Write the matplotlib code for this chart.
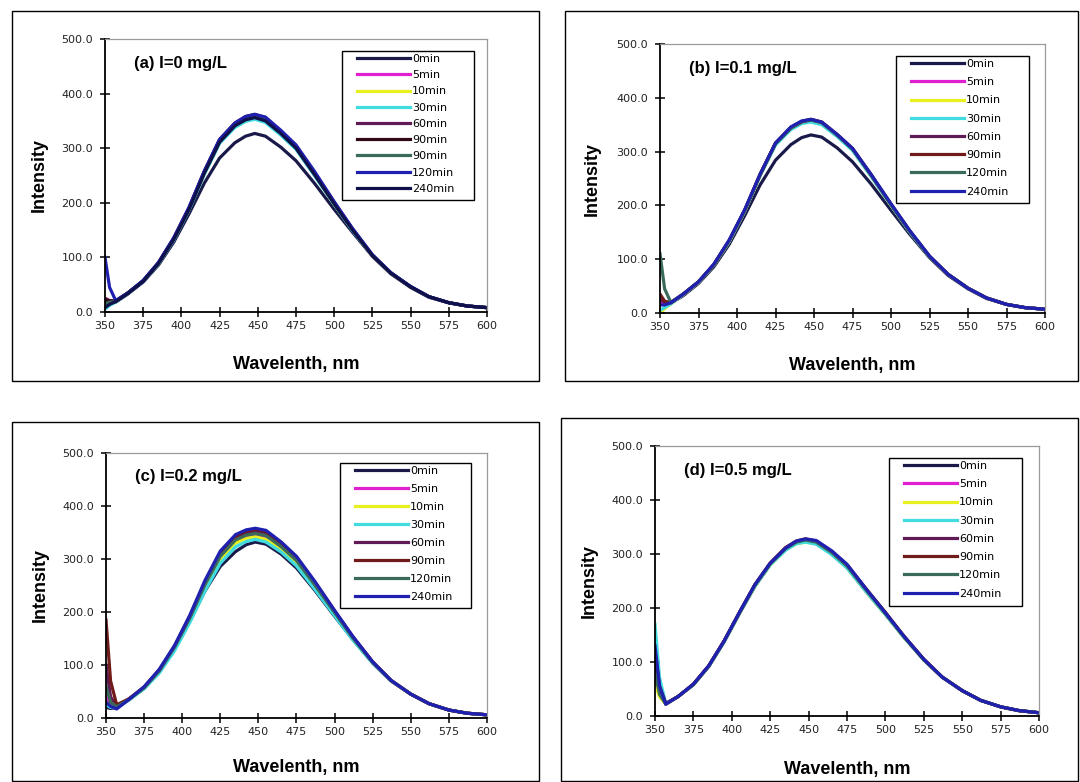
import matplotlib
matplotlib.use('Agg')
import matplotlib.pyplot as plt
from matplotlib.patches import Rectangle

plt.rcParams['font.family'] = ['DejaVu Sans']

# wavelength grid (nm)
wl = [350, 353, 357, 365, 375, 385, 395, 405, 415, 425, 435, 442, 448,
      455, 465, 475, 487, 500, 512, 525, 537, 550, 562, 575, 587, 600]

labels_a = ['0min', '5min', '10min', '30min', '60min', '90min', '90min', '120min', '240min']
labels_bcd = ['0min', '5min', '10min', '30min', '60min', '90min', '120min', '240min']

colors_a = ['#1a1a4a', '#e020d0', '#e8f020', '#40dce0', '#601a55', '#300818', '#3a6a5a', '#2020b0', '#10104a']
colors_bcd = ['#1a1a4a', '#e020d0', '#e8f020', '#40dce0', '#601a55', '#701a1a', '#3a6a5a', '#2020b0']

# (a) I=0 mg/L
curves_a = [
    [10, 16, 18, 33, 55, 86, 128, 180, 236, 282, 310, 322, 327, 322, 302, 277, 236, 188, 146, 102, 70, 45, 27, 17, 11, 8],
    [25, 20, 19, 35, 57, 89, 134, 189, 255, 312, 342, 353, 357, 351, 327, 300, 252, 198, 150, 103, 71, 46, 28, 17, 11, 8],
    [20, 19, 19, 35, 57, 89, 133, 188, 253, 310, 340, 351, 355, 349, 325, 299, 251, 197, 150, 103, 71, 46, 28, 17, 11, 8],
    [5, 12, 18, 34, 56, 88, 132, 187, 252, 309, 338, 349, 353, 347, 324, 298, 250, 197, 149, 103, 71, 46, 28, 17, 11, 8],
    [25, 21, 20, 35, 57, 90, 135, 190, 257, 315, 345, 357, 361, 355, 330, 303, 255, 200, 152, 104, 72, 46, 28, 17, 11, 8],
    [22, 20, 20, 35, 57, 90, 135, 191, 258, 316, 346, 358, 362, 356, 331, 304, 256, 201, 152, 104, 72, 46, 28, 17, 11, 8],
    [15, 18, 19, 35, 57, 89, 134, 189, 256, 313, 343, 355, 359, 353, 329, 302, 254, 199, 151, 104, 72, 46, 28, 17, 11, 8],
    [100, 45, 21, 35, 58, 91, 136, 192, 258, 316, 346, 358, 362, 357, 333, 306, 258, 202, 153, 105, 72, 47, 28, 17, 11, 8],
    [8, 14, 19, 34, 56, 89, 133, 188, 254, 311, 341, 352, 356, 350, 327, 300, 252, 198, 150, 103, 71, 46, 28, 17, 11, 8],
]

# (b) I=0.1 mg/L
curves_b = [
    [30, 20, 18, 32, 55, 86, 128, 181, 238, 284, 313, 326, 331, 327, 307, 281, 240, 191, 147, 103, 70, 45, 27, 16, 10, 7],
    [20, 17, 18, 34, 57, 90, 134, 190, 256, 314, 343, 354, 357, 352, 330, 304, 256, 201, 152, 105, 72, 46, 28, 16, 10, 7],
    [0, 8, 17, 34, 57, 89, 133, 189, 255, 313, 342, 353, 356, 351, 329, 303, 255, 200, 152, 105, 72, 46, 28, 16, 10, 7],
    [5, 10, 17, 34, 57, 89, 133, 189, 255, 312, 341, 352, 355, 350, 328, 302, 254, 200, 151, 104, 72, 46, 28, 16, 10, 7],
    [25, 20, 19, 35, 58, 90, 135, 191, 257, 315, 344, 355, 359, 354, 331, 305, 257, 202, 153, 105, 72, 46, 28, 16, 10, 7],
    [35, 22, 19, 35, 58, 90, 135, 191, 258, 316, 345, 356, 360, 355, 332, 306, 257, 202, 153, 105, 72, 46, 28, 16, 10, 7],
    [110, 45, 20, 35, 58, 90, 135, 191, 257, 315, 344, 356, 359, 354, 331, 305, 257, 202, 153, 105, 72, 46, 28, 16, 10, 7],
    [15, 15, 19, 35, 58, 91, 136, 192, 258, 316, 346, 357, 360, 355, 332, 306, 258, 203, 154, 106, 72, 46, 28, 16, 10, 7],
]

# (c) I=0.2 mg/L
curves_c = [
    [20, 18, 20, 34, 56, 87, 130, 183, 240, 286, 314, 327, 332, 328, 309, 283, 241, 192, 148, 104, 70, 45, 27, 15, 9, 6],
    [40, 25, 20, 35, 57, 89, 133, 188, 250, 302, 332, 342, 345, 340, 320, 294, 249, 197, 150, 104, 70, 45, 27, 15, 9, 6],
    [30, 22, 20, 35, 57, 88, 132, 186, 248, 300, 330, 339, 342, 337, 318, 292, 247, 196, 149, 104, 70, 45, 27, 15, 9, 6],
    [25, 20, 19, 34, 55, 85, 127, 180, 240, 292, 323, 333, 337, 332, 313, 287, 243, 193, 147, 103, 70, 45, 27, 15, 9, 6],
    [100, 40, 22, 36, 58, 90, 135, 190, 255, 309, 340, 349, 352, 348, 327, 300, 254, 201, 152, 105, 71, 45, 27, 15, 9, 6],
    [185, 70, 25, 36, 58, 91, 136, 192, 257, 312, 343, 353, 356, 352, 330, 303, 256, 202, 153, 106, 71, 45, 27, 15, 9, 6],
    [60, 30, 21, 35, 57, 89, 134, 189, 252, 305, 336, 345, 348, 344, 323, 297, 251, 199, 151, 105, 71, 45, 27, 15, 9, 6],
    [30, 22, 17, 35, 59, 92, 137, 194, 260, 315, 346, 355, 358, 354, 332, 305, 258, 203, 154, 106, 71, 45, 27, 15, 9, 6],
]

# (d) I=0.5 mg/L
curves_d = [
    [140, 60, 22, 36, 58, 92, 138, 190, 240, 280, 308, 320, 324, 320, 300, 275, 232, 188, 146, 104, 72, 47, 29, 17, 10, 6],
    [90, 45, 22, 36, 58, 92, 138, 191, 241, 281, 309, 321, 325, 321, 301, 276, 233, 189, 147, 104, 72, 47, 29, 17, 10, 6],
    [60, 35, 22, 36, 58, 92, 138, 190, 240, 280, 308, 319, 322, 319, 300, 275, 232, 188, 146, 104, 72, 47, 29, 17, 10, 6],
    [170, 70, 23, 36, 58, 92, 137, 190, 240, 280, 307, 319, 322, 318, 299, 274, 232, 188, 146, 104, 72, 47, 29, 17, 10, 6],
    [120, 55, 23, 36, 59, 93, 139, 192, 243, 283, 311, 323, 327, 323, 304, 279, 236, 191, 148, 105, 72, 47, 29, 17, 10, 6],
    [100, 50, 23, 36, 59, 93, 139, 192, 243, 283, 312, 324, 328, 324, 305, 280, 237, 192, 148, 105, 72, 47, 29, 17, 10, 6],
    [80, 40, 22, 36, 58, 92, 138, 191, 242, 282, 310, 322, 326, 322, 303, 278, 235, 190, 147, 104, 72, 47, 29, 17, 10, 6],
    [130, 55, 22, 36, 59, 93, 139, 192, 243, 283, 311, 324, 328, 325, 306, 281, 237, 191, 148, 105, 72, 47, 29, 17, 10, 6],
]

W, H = 1080, 782
fig = plt.figure(figsize=(W / 100, H / 100), dpi=100)


def px_rect(x0, y0, x1, y1):
    # pixel box (top-left origin) -> figure fraction [left, bottom, w, h]
    return [x0 / W, 1 - y1 / H, (x1 - x0) / W, (y1 - y0) / H]


def frame(x0, y0, x1, y1, lw):
    r = px_rect(x0, y0, x1, y1)
    fig.add_artist(Rectangle((r[0], r[1]), r[2], r[3], transform=fig.transFigure,
                             fill=False, edgecolor='black', lw=lw, zorder=5))


def draw_panel(axrect, boxrect, legrect, tag, curves, labels, colors, lspace, ylab_x, xlab_y):
    frame(*boxrect, 1.0)
    ax = fig.add_axes(px_rect(*axrect))
    for vals, lab, c in zip(curves, labels, colors):
        ax.plot(wl, vals, color=c, lw=2.3, label=lab, solid_joinstyle='round')
    ax.set_xlim(350, 600)
    ax.set_ylim(0, 500)
    ax.set_xticks(range(350, 601, 25))
    ax.set_yticks(range(0, 501, 100))
    ax.set_yticklabels([f'{v:.1f}' for v in range(0, 501, 100)])
    ax.tick_params(direction='inout', length=7, width=1.1, labelsize=8,
                   labelcolor='#222222')
    ax.tick_params(axis='y', pad=5)
    ax.tick_params(axis='x', pad=3)
    for s in ['top', 'right']:
        ax.spines[s].set_color('#9a9a9a')
        ax.spines[s].set_linewidth(0.9)
    for s in ['left', 'bottom']:
        ax.spines[s].set_linewidth(1.3)
    lab_font = dict(fontsize=13, fontweight='bold', family='Liberation Sans')
    ax.set_xlabel('Wavelenth, nm', **lab_font)
    ax.set_ylabel('Intensity', **lab_font)
    l, b, w, h = px_rect(*axrect)
    ax.xaxis.set_label_coords(0.5, ((1 - (xlab_y - 8) / H) - b) / h, transform=ax.transAxes)
    ax.yaxis.set_label_coords(((ylab_x + 8) / W - l) / w, 0.5, transform=ax.transAxes)
    ax.text(0.075, 0.91, tag, transform=ax.transAxes, fontsize=12, fontweight='bold',
            family='Liberation Sans', va='center', ha='left')
    # legend: own frame drawn at the pixel box, entries placed inside it
    lx0, ly0, lx1, ly1 = legrect
    frame(lx0, ly0, lx1, ly1, 1.0)
    leg = ax.legend(loc='upper left', bbox_to_anchor=((lx0 + 15) / W, 1 - (ly0 + 3) / H),
                    bbox_transform=fig.transFigure, fontsize=8,
                    handlelength=4.8, handletextpad=0.15, labelspacing=lspace,
                    borderpad=0, borderaxespad=0, frameon=False)
    for line in leg.get_lines():
        line.set_linewidth(2.3)
    return ax


draw_panel((105, 39, 487, 312), (12, 11, 539, 381), (342, 51, 474, 200), '(a) I=0 mg/L',
           curves_a, labels_a, colors_a, 0.56, 40, 364)
draw_panel((660, 44, 1045, 313), (565, 11, 1078, 381), (896, 56, 1029, 203), '(b) I=0.1 mg/L',
           curves_b, labels_bcd, colors_bcd, 0.74, 593, 365)
draw_panel((106, 453, 487, 718), (12, 422, 539, 781), (340, 463, 471, 608), '(c) I=0.2 mg/L',
           curves_c, labels_bcd, colors_bcd, 0.72, 41, 767)
draw_panel((655, 446, 1039, 716), (561, 418, 1078, 781), (889, 458, 1022, 606), '(d) I=0.5 mg/L',
           curves_d, labels_bcd, colors_bcd, 0.74, 590, 769)

fig.savefig('out.png', dpi=100)
